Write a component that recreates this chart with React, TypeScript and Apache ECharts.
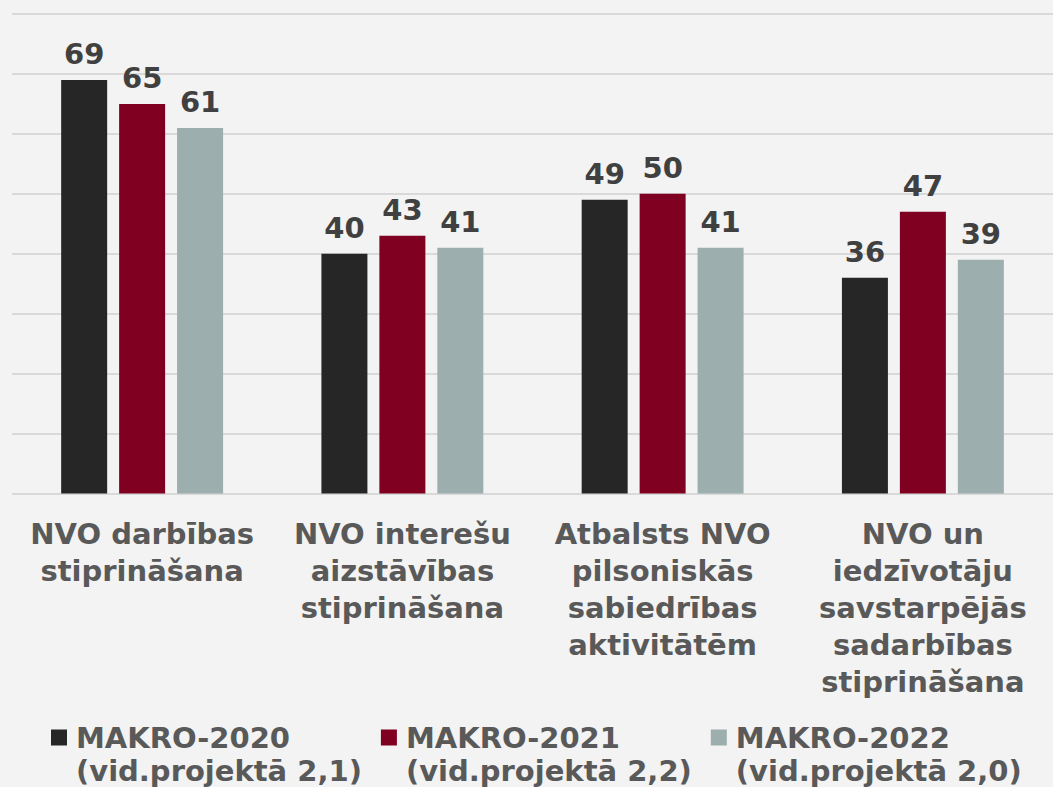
import React, { useEffect, useRef } from "react";
import * as echarts from "echarts";

const categories = [
  "NVO darbības\nstiprināšana",
  "NVO interešu\naizstāvības\nstiprināšana",
  "Atbalsts NVO\npilsoniskās\nsabiedrības\naktivitātēm",
  "NVO un\niedzīvotāju\nsavstarpējās\nsadarbības\nstiprināšana",
];
const seriesNames = [
  "MAKRO-2020\n(vid.projektā 2,1)",
  "MAKRO-2021\n(vid.projektā 2,2)",
  "MAKRO-2022\n(vid.projektā 2,0)",
];
const makro2020 = [69, 40, 49, 36];
const makro2021 = [65, 43, 50, 47];
const makro2022 = [61, 41, 41, 39];
const colors = ["#262626", "#7f0020", "#9caead"];

const FONT = "'DejaVu Sans', Verdana, sans-serif";

export default function App() {
  const ref = useRef<HTMLDivElement>(null);
  useEffect(() => {
    if (!ref.current) return;
    const chart = echarts.init(ref.current, null, { renderer: "svg" });
    const values = [makro2020, makro2021, makro2022];
    chart.setOption({
      animation: false,
      backgroundColor: "#f2f3f2",
      grid: { left: 12, right: -8, top: 14, bottom: 787 - 493.5, containLabel: false },
      legend: {
        left: 51,
        top: 721,
        padding: 0,
        itemGap: 19,
        itemWidth: 16,
        itemHeight: 49,
        icon: "path://M0 0H16V16H0Z M0 49H0.01V49.01H0Z",
        textStyle: {
          fontFamily: FONT,
          fontWeight: "bold",
          fontSize: 29,
          lineHeight: 33,
          color: "#595959",
          padding: [0, 0, 0, 4],
        },
        data: seriesNames,
      },
      xAxis: {
        type: "category",
        data: categories,
        axisLine: { show: false },
        axisTick: { show: false },
        axisLabel: {
          interval: 0,
          margin: 22,
          fontFamily: FONT,
          fontWeight: "bold",
          fontSize: 29,
          lineHeight: 37,
          color: "#595959",
        },
      },
      yAxis: {
        type: "value",
        min: 0,
        max: 80,
        interval: 10,
        axisLabel: { show: false },
        axisLine: { show: false },
        axisTick: { show: false },
        splitLine: { lineStyle: { color: "#d9d9d9", width: 2 } },
      },
      series: seriesNames.map((name, i) => ({
        name,
        type: "bar",
        data: values[i],
        barWidth: 46,
        barGap: "26%",
        itemStyle: { color: colors[i] },
        label: {
          show: true,
          position: "top",
          distance: 11,
          fontFamily: FONT,
          fontWeight: "bold",
          fontSize: 29,
          color: "#404040",
        },
      })),
    });
    return () => chart.dispose();
  }, []);
  return (
    <div
      ref={ref}
      style={{ position: "absolute", left: 0, top: 0, width: 1053, height: 787 }}
    />
  );
}
